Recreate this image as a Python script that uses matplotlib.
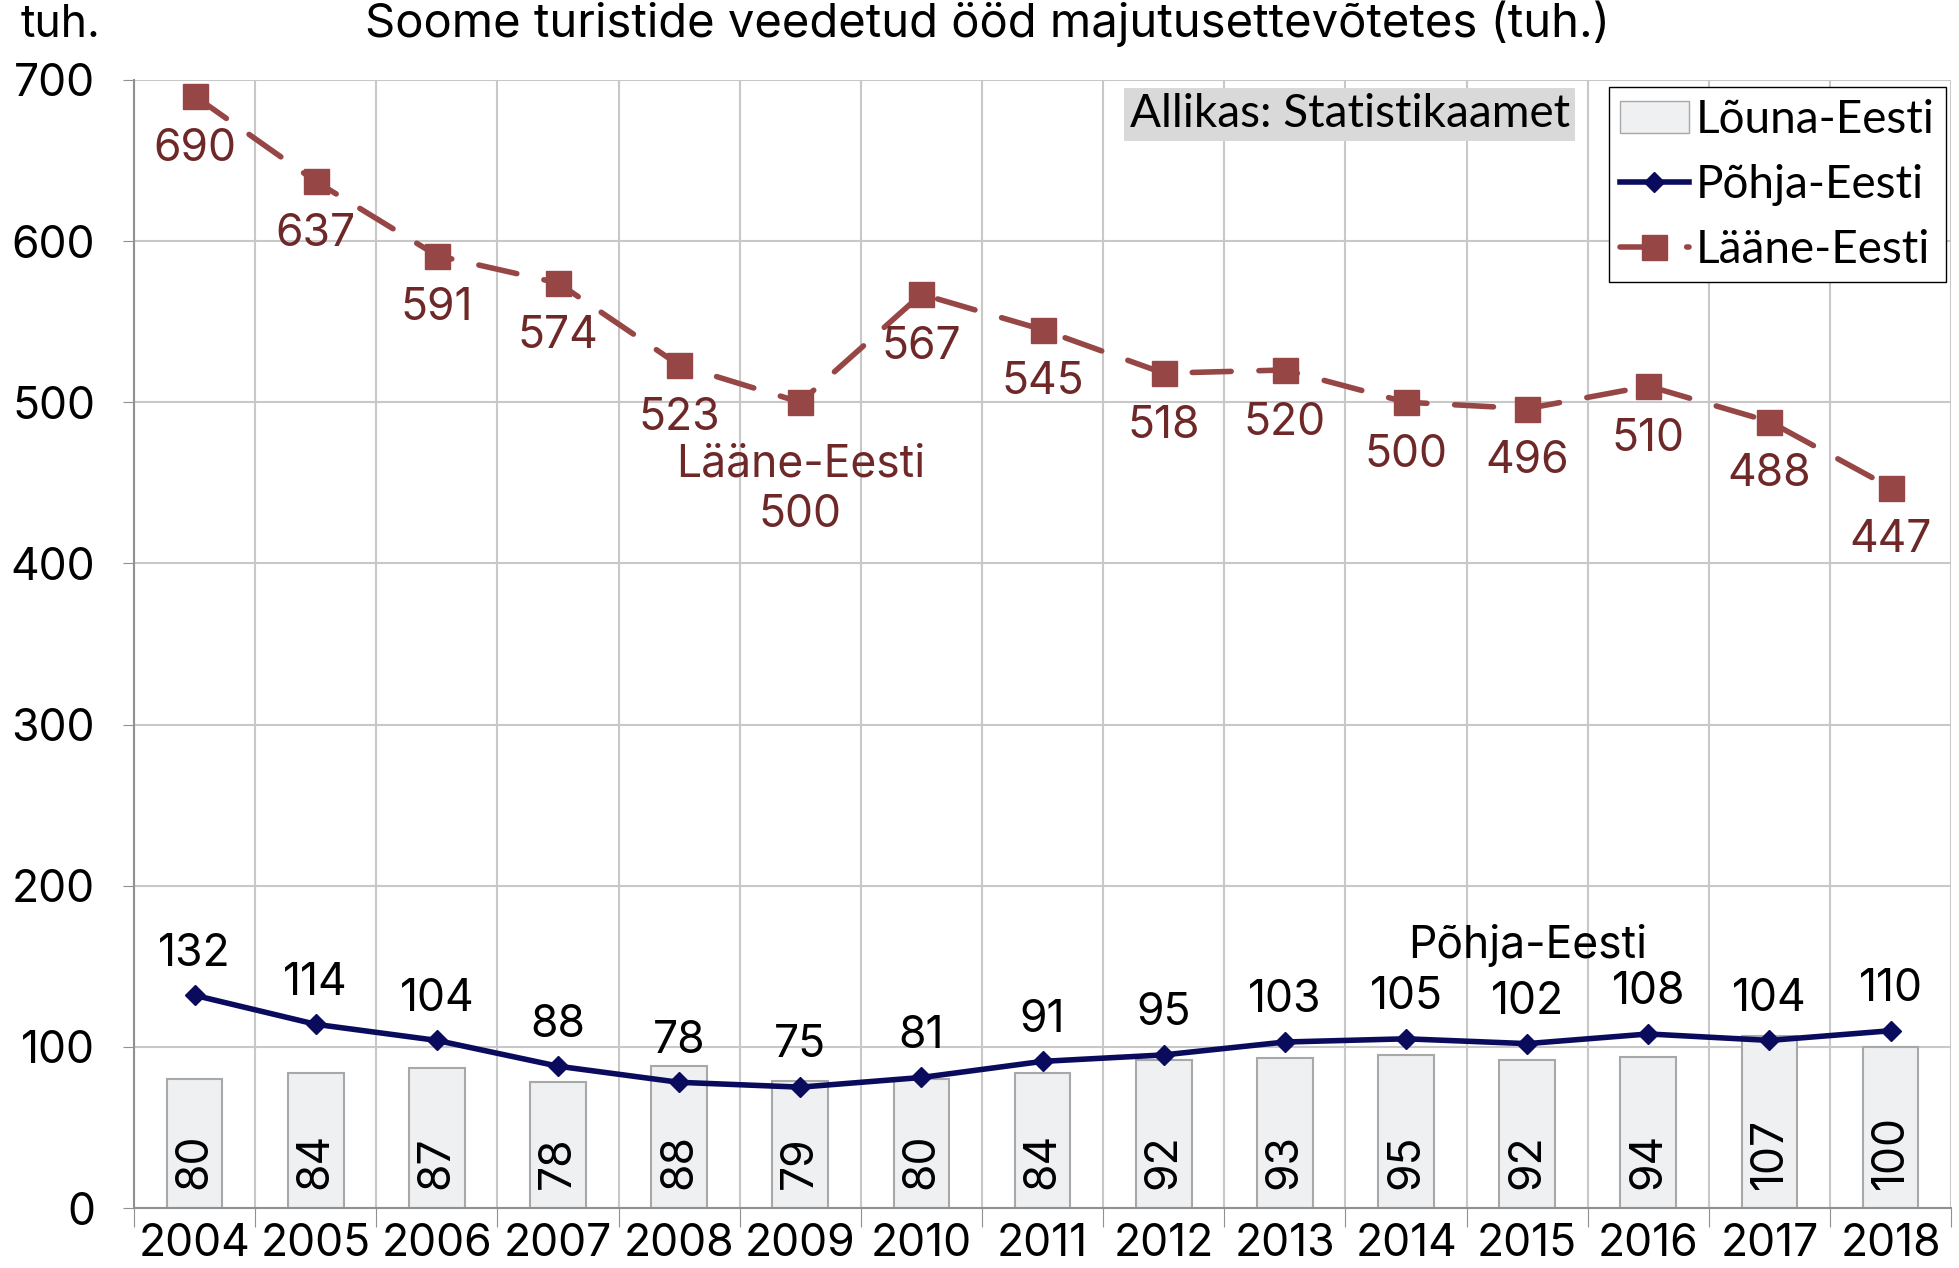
"""Soome turistide veedetud ööd majutusettevõtetes, piirkonniti (tuh.)."""
import matplotlib
matplotlib.use("Agg")
import matplotlib.pyplot as plt
from matplotlib.lines import Line2D
from matplotlib.patches import Patch

years = ["2004", "2005", "2006", "2007", "2008", "2009", "2010", "2011",
         "2012", "2013", "2014", "2015", "2016", "2017", "2018"]
louna = [80, 84, 87, 78, 88, 79, 80, 84, 92, 93, 95, 92, 94, 107, 100]
pohja = [132, 114, 104, 88, 78, 75, 81, 91, 95, 103, 105, 102, 108, 104, 110]
laane = [690, 637, 591, 574, 523, 500, 567, 545, 518, 520, 500, 496, 510, 488, 447]

LAANE_C = "#974646"
LAANE_TXT = "#6E2828"
POHJA_C = "#0B0B5E"
BAR_FACE = "#EFF0F2"
BAR_EDGE = "#A8A8A8"
GRID_C = "#C8C8C8"
FS = 32
NARROW = ["Lato", "DejaVu Sans"]
LAANE_STYLE = dict(color=LAANE_C, lw=4, dashes=(7, 5), dash_capstyle="round",
                   marker="s", markersize=18)
POHJA_STYLE = dict(color=POHJA_C, lw=4, marker="D", markersize=10)

plt.rcParams["font.family"] = ["Inter", "DejaVu Sans"]

fig = plt.figure(figsize=(19.59, 12.68), dpi=100)
ax = fig.add_axes([0.0684, 0.0473, 0.9276, 0.8897])

x = list(range(len(years)))

ax.bar(x, louna, width=0.46, color=BAR_FACE, edgecolor=BAR_EDGE, linewidth=1.5, zorder=2)
for xi, v in zip(x, louna):
    ax.text(xi, 12, str(v), rotation=90, ha="center", va="bottom", fontsize=FS, zorder=5)

ax.plot(x, pohja, zorder=4, **POHJA_STYLE)
for xi, v in zip(x, pohja):
    ax.annotate(str(v), (xi, v), xytext=(0, 30), textcoords="offset points",
                ha="center", va="center", fontsize=FS, zorder=5)
    if years[xi] == "2015":
        ax.annotate("Põhja-Eesti", (xi, v), xytext=(0, 71), textcoords="offset points",
                    ha="center", va="center", fontsize=FS, zorder=5)

ax.plot(x, laane, zorder=4, **LAANE_STYLE)
for xi, v in zip(x, laane):
    dy = -81 if years[xi] == "2009" else -38
    ax.annotate(str(v), (xi, v), xytext=(0, dy), textcoords="offset points",
                ha="center", va="center", fontsize=FS, color=LAANE_TXT, zorder=5)
    if years[xi] == "2009":
        ax.annotate("Lääne-Eesti", (xi, v), xytext=(0, -45), textcoords="offset points",
                    ha="center", va="center", fontsize=FS, color=LAANE_TXT, zorder=5)

ax.set_xlim(-0.5, len(years) - 0.5)
ax.set_ylim(0, 700)
ax.set_yticks(range(0, 701, 100))
ax.tick_params(axis="y", labelsize=FS, length=8, color="#909090", pad=20)

# boundaries carry the tick marks and gridlines, centres carry the year labels
ax.set_xticks([i - 0.5 for i in range(len(years) + 1)])
ax.set_xticklabels([])
ax.set_xticks(x, minor=True)
ax.set_xticklabels(years, minor=True)
ax.tick_params(axis="x", which="major", length=14, color="#909090")
ax.tick_params(axis="x", which="minor", length=0, labelsize=FS, pad=11)

ax.grid(True, which="major", color=GRID_C, lw=1.5, zorder=0)
ax.set_axisbelow(True)
for side in ("top", "right"):
    ax.spines[side].set_visible(False)
for side in ("left", "bottom"):
    ax.spines[side].set_color("#909090")
    ax.spines[side].set_linewidth(1.5)

fig.text(0.504, 0.981, "Soome turistide veedetud ööd majutusettevõtetes (tuh.)",
         ha="center", va="center", fontsize=34)
fig.text(0.031, 0.980, "tuh.", ha="center", va="center", fontsize=FS)
fig.text(0.689, 0.910, "Allikas: Statistikaamet", ha="center", va="center",
         fontsize=33, family=NARROW,
         bbox=dict(facecolor="#D9D9D9", edgecolor="none", pad=4))

handles = [
    Patch(facecolor=BAR_FACE, edgecolor=BAR_EDGE, label="Lõuna-Eesti"),
    Line2D([], [], label="Põhja-Eesti", **POHJA_STYLE),
    Line2D([], [], label="Lääne-Eesti", **LAANE_STYLE),
]
fig.legend(handles=handles, loc="upper right", bbox_to_anchor=(0.9934, 0.931),
           borderaxespad=0, fancybox=False, edgecolor="black", framealpha=1,
           prop={"family": NARROW, "size": 33},
           handlelength=1.5, handletextpad=0.15, labelspacing=0.5, borderpad=0.25)

fig.savefig("out.png", dpi=100)
